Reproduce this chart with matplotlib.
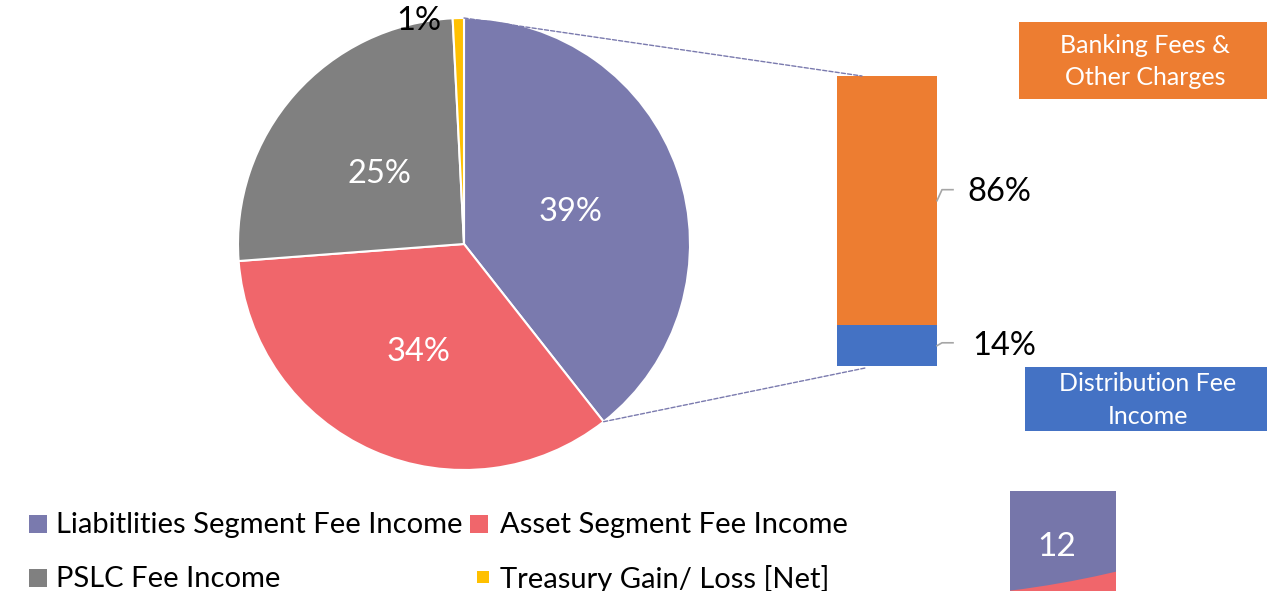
import matplotlib.pyplot as plt
from matplotlib.patches import Rectangle, Circle, ConnectionPatch
import numpy as np

# Fee income split (pie) and breakdown of the liabilities slice (bar)
pie_labels = [
    "Liabitlities Segment Fee Income",
    "Asset Segment Fee Income",
    "PSLC Fee Income",
    "Treasury Gain/ Loss [Net]",
]
pie_values = [39.4, 34.4, 25.4, 0.8]
pie_colors = ["#7a7aae", "#f0666b", "#808080", "#ffc000"]

bar_labels = ["Distribution Fee\nIncome", "Banking Fees &\nOther Charges"]
bar_values = [14, 86]
bar_colors = ["#4472c4", "#ed7d31"]

corner_label = "12"

plt.rcParams["font.family"] = ["Lato", "DejaVu Sans"]

W, H = 1267, 591
fig = plt.figure(figsize=(W / 100, H / 100), dpi=100)


def fx(x):
    return x / W


def fy(y):
    return 1 - y / H


# --- pie ---
ax_pie = fig.add_axes([fx(238), fy(470), 452 / W, 452 / H])
wedges, _, autotexts = ax_pie.pie(
    pie_values,
    colors=pie_colors,
    startangle=90,
    counterclock=False,
    autopct=lambda p: f"{p:.0f}%",
    pctdistance=0.5,
    wedgeprops=dict(edgecolor="white", linewidth=1.5),
    textprops=dict(color="white", fontsize=23.5),
)
ax_pie.set_xlim(-1, 1)
ax_pie.set_ylim(-1, 1)
# nudge the in-slice labels down a little, like the original
for t in autotexts[:-1]:
    x, y = t.get_position()
    t.set_position((x, y - 0.02))
autotexts[-1].set_color("black")
autotexts[-1].set_position((-0.2, 0.985))
autotexts[-1].set_clip_on(False)

# --- stacked bar ---
ax_bar = fig.add_axes([fx(837), fy(366), 100 / W, 290 / H])
bottom = 0
for val, col in zip(bar_values, bar_colors):
    ax_bar.bar(0, val, bottom=bottom, width=1, color=col)
    bottom += val
ax_bar.set_xlim(-0.5, 0.5)
ax_bar.set_ylim(0, 100)
ax_bar.axis("off")

bottom = 0
for i, val in enumerate(bar_values):
    mid = bottom + val / 2
    rise = 1.0 if i == 0 else 3.8
    ax_bar.plot([0.5, 0.55, 0.66], [mid, mid + rise, mid + rise],
                color="#a6a6a6", lw=1.2, clip_on=False)
    ax_bar.text(0.8 if i else 0.85, mid + (0 if i == 0 else 3), f"{val}%",
                fontsize=23.5, ha="left", va="center", clip_on=False)
    bottom += val

# dashed connectors from the liabilities slice to the bar
theta_end = np.deg2rad(90 - 360 * pie_values[0] / sum(pie_values))
for pie_pt, bar_pt in [((0, 1), (-0.25, 100)),
                       ((np.cos(theta_end), np.sin(theta_end)), (-0.22, -0.7))]:
    con = ConnectionPatch(xyA=pie_pt, coordsA=ax_pie.transData,
                          xyB=bar_pt, coordsB=ax_bar.transData,
                          color="#7a7aae", lw=1, linestyle=(0, (3, 1.5)))
    fig.add_artist(con)

# --- label boxes next to the bar ---
boxes = [(1025, 367, 242, 64), (1019, 22, 248, 77)]
for (x, y, w, h), txt, col in zip(boxes, bar_labels, bar_colors):
    fig.add_artist(Rectangle((fx(x), fy(y + h)), w / W, h / H,
                             transform=fig.transFigure, color=col, lw=0))
    fig.text(fx(x + w / 2 + 2), fy(y + h / 2 + 1), txt, color="white",
             fontsize=18, ha="center", va="center", linespacing=1.5)

# --- small "12" tile ---
ax_tile = fig.add_axes([fx(1010), fy(591), 106 / W, 100 / H])
ax_tile.set_xlim(0, 106)
ax_tile.set_ylim(0, 100)
ax_tile.add_patch(Rectangle((0, 0), 106, 100, color=pie_colors[1], lw=0))
ax_tile.add_patch(Circle((-120, 976), 983, color="#7676aa", lw=0))
ax_tile.text(47, 44, corner_label, color="white", fontsize=24,
             ha="center", va="center")
ax_tile.axis("off")

# --- legend ---
legend_pos = [(29, 515, 18), (470, 515, 18), (29, 569, 18), (477, 571, 12)]
text_x = [56, 500, 56, 500]
text_y = [525, 525, 579, 579]
for (x, y, s), tx, ty, lab, col in zip(legend_pos, text_x, text_y,
                                       pie_labels, pie_colors):
    fig.add_artist(Rectangle((fx(x), fy(y + s)), s / W, s / H,
                             transform=fig.transFigure, color=col, lw=0))
    fig.text(fx(tx), fy(ty), lab, fontsize=21, ha="left", va="center")

fig.savefig("out.png", dpi=100)
